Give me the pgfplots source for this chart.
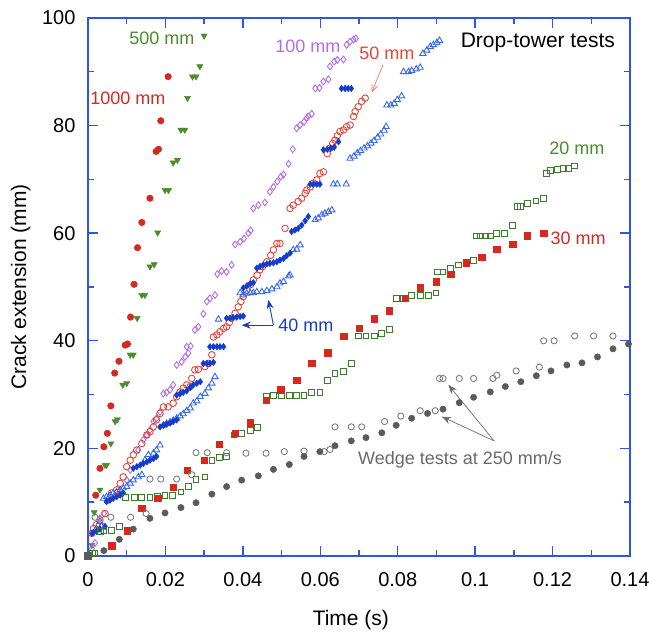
\documentclass[border=0pt]{standalone}
\usepackage{fontspec}
\setmainfont{Liberation Sans}
\usepackage{pgfplots}
\pgfplotsset{compat=1.18}
\usetikzlibrary{arrows.meta}
\definecolor{frameblue}{RGB}{45,85,230}
\definecolor{redA}{RGB}{215,40,30}
\definecolor{redB}{RGB}{228,70,55}
\definecolor{greenA}{RGB}{75,140,45}
\definecolor{greenB}{RGB}{60,125,45}
\definecolor{purpleA}{RGB}{175,110,235}
\definecolor{blueA}{RGB}{20,60,205}
\definecolor{blueB}{RGB}{55,105,235}
\definecolor{grayA}{RGB}{90,90,90}
\definecolor{grayB}{RGB}{125,125,125}
\definecolor{grayT}{RGB}{105,105,105}
\begin{document}
\begin{tikzpicture}
\useasboundingbox (-88pt,-76pt) rectangle (561pt,556pt);
\begin{axis}[name=ax, scale only axis, width=542pt, height=538pt,
  at={(0,0)}, anchor=south west,
  xmin=0, xmax=0.14, ymin=0, ymax=100,
  clip=false,
  axis line style={frameblue, line width=1.6pt},
  xtick={0,0.02,0.04,0.06,0.08,0.1,0.12,0.14},
  xticklabels={0,0.02,0.04,0.06,0.08,0.1,0.12,0.14},
  minor xtick={0.01,0.03,0.05,0.07,0.09,0.11,0.13},
  ytick={0,20,40,60,80,100},
  yticklabels={0,20,40,60,80,100},
  minor ytick={10,30,50,70,90},
  xtick pos=both, ytick pos=both,
  xticklabel pos=lower, yticklabel pos=left,
  tick align=inside,
  major tick length=10pt, minor tick length=6pt,
  every tick/.style={frameblue, line width=1.4pt},
  ticklabel style={font=\fontsize{20}{24}\selectfont},
  xticklabel style={yshift=-13pt},
  yticklabel style={xshift=-9pt},
  xlabel={Time (s)}, ylabel={Crack extension (mm)},
  xlabel style={font=\fontsize{21}{25}\selectfont, at={(axis description cs:0.485,-0.119)}, anchor=center},
  ylabel style={font=\fontsize{21}{25}\selectfont, at={(axis description cs:-0.124,0.5)}, anchor=center},
  every axis plot/.append style={only marks},
]
% 1000 mm
\addplot[mark=*, mark size=3.3pt, mark options={fill=redA, draw=redA}] coordinates {
(0.0207,89.1) (0.0188,80.9) (0.0176,75.2) (0.0182,75.6) (0.0160,66.5) (0.0139,62.0)
(0.0128,57.3) (0.0119,50.5) (0.0110,44.4) (0.0096,39.2) (0.0102,39.4) (0.0080,36.2)
(0.0069,34.0) (0.0059,27.9) (0.0050,22.8) (0.0041,20.3) (0.0031,16.3) (0.0020,11.3)};
% 500 mm
\addplot[mark=triangle*, mark size=3.6pt, mark options={fill=greenA, draw=greenA, rotate=180}] coordinates {
(0.0300,96.7) (0.0289,91.0) (0.0270,89.1) (0.0279,89.1) (0.0257,85.1) (0.0240,79.2)
(0.0250,79.2) (0.0220,73.1) (0.0231,73.6) (0.0199,68.0) (0.0208,68.0) (0.0180,60.1)
(0.0160,53.8) (0.0171,54.2) (0.0139,48.5) (0.0147,48.5) (0.0127,44.2) (0.0109,37.4)
(0.0117,37.4) (0.0090,31.8) (0.0100,32.1) (0.0070,25.0) (0.0076,25.4) (0.0059,20.9)
(0.0044,16.9) (0.0048,16.9) (0.0031,12.3) (0.0016,8.1) (0.0010,2.0)};
% 100 mm
\addplot[mark=diamond, mark size=3.4pt, mark options={draw=purpleA, line width=0.9pt, fill=none}] coordinates {
(0.0010,1.4) (0.0018,2.4) (0.0031,7.0) (0.0041,7.9) (0.0100,14.1) (0.0109,16.0)
(0.0130,19.7) (0.0143,21.6) (0.0152,22.5) (0.0160,23.4) (0.0169,25.0) (0.0177,25.6)
(0.0186,26.8) (0.0195,30.2) (0.0203,30.4) (0.0212,30.9) (0.0220,31.8) (0.0229,35.5)
(0.0242,36.1) (0.0251,37.0) (0.0259,37.7) (0.0255,38.9) (0.0265,39.0) (0.0276,42.0)
(0.0285,42.6) (0.0298,45.0) (0.0307,47.3) (0.0315,47.9) (0.0328,48.5) (0.0334,52.4)
(0.0345,53.0) (0.0358,52.8) (0.0371,54.1) (0.0380,57.9) (0.0393,58.4) (0.0403,59.0)
(0.0414,60.0) (0.0420,60.5) (0.0427,64.6) (0.0440,65.2) (0.0457,65.7) (0.0470,67.7)
(0.0479,68.6) (0.0489,69.6) (0.0498,70.5) (0.0505,70.9) (0.0518,72.9) (0.0529,75.6)
(0.0539,79.5) (0.0548,80.1) (0.0558,80.7) (0.0565,81.4) (0.0569,81.7) (0.0578,82.2)
(0.0587,86.9) (0.0598,87.0) (0.0608,88.2) (0.0621,88.6) (0.0625,91.0) (0.0636,91.9)
(0.0644,92.2) (0.0660,92.3) (0.0668,95.0) (0.0677,95.6) (0.0686,96.0) (0.0692,96.2)};
% 50 mm
\addplot[mark=o, mark size=3.3pt, mark options={draw=redB, line width=0.9pt}] coordinates {
(0.0010,4.2) (0.0014,5.1) (0.0022,5.8) (0.0031,6.7) (0.0044,7.9) (0.0052,10.4)
(0.0061,11.7) (0.0074,12.3) (0.0083,13.5) (0.0091,14.7) (0.0100,16.6) (0.0109,17.8)
(0.0117,18.8) (0.0126,19.7) (0.0139,20.9) (0.0152,22.5) (0.0160,23.1) (0.0169,24.0)
(0.0177,25.3) (0.0186,26.5) (0.0195,27.7) (0.0207,27.7) (0.0220,28.4) (0.0229,29.6)
(0.0238,30.5) (0.0246,31.2) (0.0255,31.8) (0.0264,31.5) (0.0268,33.0) (0.0276,34.6)
(0.0285,34.7) (0.0302,35.2) (0.0311,35.8) (0.0320,37.4) (0.0324,40.7) (0.0333,41.1)
(0.0341,41.7) (0.0350,42.3) (0.0358,42.6) (0.0365,43.4) (0.0371,44.2) (0.0380,45.1)
(0.0388,46.3) (0.0395,47.3) (0.0401,48.2) (0.0410,49.4) (0.0419,50.4) (0.0427,51.3)
(0.0437,52.2) (0.0444,53.2) (0.0451,53.8) (0.0462,54.7) (0.0472,55.9) (0.0479,56.9)
(0.0488,58.1) (0.0496,58.1) (0.0509,60.9) (0.0522,64.6) (0.0530,65.2) (0.0543,65.9)
(0.0552,66.5) (0.0561,67.4) (0.0565,68.0) (0.0574,68.6) (0.0582,69.3) (0.0591,69.9)
(0.0599,71.1) (0.0608,71.4) (0.0618,74.8) (0.0625,75.8) (0.0632,76.7) (0.0638,77.3)
(0.0644,78.1) (0.0651,78.9) (0.0660,79.2) (0.0668,79.8) (0.0677,80.1) (0.0686,81.7)
(0.0690,82.6) (0.0698,83.5) (0.0707,84.5) (0.0716,85.1)};
% 40 mm open triangles
\addplot[mark=triangle, mark size=3.6pt, mark options={draw=blueB, line width=0.9pt}] coordinates {
(0.0022,5.1) (0.0031,6.4) (0.0035,5.5)
(0.0040,10.7) (0.0048,11.0) (0.0057,11.3) (0.0065,11.7) (0.0074,11.9) (0.0083,12.3)
(0.0091,12.6) (0.0100,12.9) (0.0109,13.5) (0.0117,14.1) (0.0130,14.7) (0.0139,15.1)
(0.0147,17.8) (0.0156,18.8) (0.0169,19.1) (0.0177,19.7) (0.0186,20.6)
(0.0195,24.3) (0.0203,24.6) (0.0212,24.9) (0.0220,25.2) (0.0229,25.6) (0.0238,26.0)
(0.0246,26.4) (0.0255,27.0) (0.0264,27.5) (0.0272,28.4) (0.0281,28.8) (0.0290,29.6)
(0.0302,30.2) (0.0311,31.2) (0.0320,32.1) (0.0328,33.3)
(0.0337,44.0)
(0.0393,48.9) (0.0401,48.5) (0.0410,48.8) (0.0419,48.9) (0.0427,48.9) (0.0436,49.1)
(0.0449,49.1) (0.0462,49.3) (0.0475,49.6) (0.0488,50.0) (0.0496,50.7) (0.0505,51.0)
(0.0518,52.0) (0.0522,52.2)
(0.0530,56.9) (0.0539,57.0) (0.0548,57.8)
(0.0587,62.5) (0.0595,62.8) (0.0604,63.4) (0.0612,63.7) (0.0621,64.0) (0.0630,64.3)
(0.0634,69.1) (0.0644,69.1) (0.0667,69.1)
(0.0677,73.9) (0.0687,74.3) (0.0696,74.9) (0.0704,75.3) (0.0713,75.8) (0.0722,76.2)
(0.0731,76.7) (0.0739,77.2) (0.0748,77.8) (0.0756,78.4) (0.0765,79.1) (0.0770,79.8)
(0.0772,83.8) (0.0782,83.8) (0.0791,84.1) (0.0799,84.8) (0.0810,85.5)
(0.0815,90.0) (0.0828,90.0) (0.0836,90.2) (0.0848,90.5) (0.0858,90.8)
(0.0865,93.4) (0.0875,94.0) (0.0884,94.7) (0.0892,95.0) (0.0901,95.4) (0.0908,95.8)};
% 40 mm filled diamonds
\addplot[mark=diamond*, mark size=3.3pt, mark options={fill=blueA, draw=blueA}] coordinates {
(0.0010,4.2) (0.0014,4.4) (0.0022,4.6) (0.0031,5.0) (0.0044,5.5)
(0.0048,10.1) (0.0057,10.4) (0.0065,10.7) (0.0074,11.0) (0.0083,11.3) (0.0091,11.7)
(0.0117,16.3) (0.0126,16.6) (0.0135,16.9) (0.0143,17.2) (0.0152,17.5) (0.0160,17.8)
(0.0169,18.1) (0.0177,18.5)
(0.0186,24.0) (0.0195,24.3) (0.0203,24.5) (0.0212,24.7) (0.0220,25.0) (0.0229,25.3)
(0.0229,29.9) (0.0238,30.2) (0.0246,30.4) (0.0255,30.7) (0.0264,31.3) (0.0272,31.8)
(0.0281,32.1) (0.0290,32.4)
(0.0298,35.8) (0.0307,35.8) (0.0315,35.8) (0.0324,36.0)
(0.0315,38.9) (0.0324,38.9) (0.0333,38.9) (0.0341,38.9) (0.0350,38.9)
(0.0358,44.2) (0.0367,44.2) (0.0375,44.3) (0.0384,44.4) (0.0393,44.5) (0.0401,44.6)
(0.0401,49.8) (0.0410,50.2) (0.0419,50.6) (0.0427,50.8)
(0.0436,53.5) (0.0444,53.8) (0.0453,54.1) (0.0462,54.3) (0.0470,54.4) (0.0479,54.5)
(0.0488,54.7) (0.0496,55.0) (0.0505,55.3) (0.0513,55.8) (0.0522,56.3)
(0.0526,60.3) (0.0535,60.6) (0.0543,60.9) (0.0552,61.5) (0.0561,62.3) (0.0569,63.1)
(0.0574,69.1) (0.0582,69.1) (0.0591,69.1) (0.0599,69.1)
(0.0608,75.5) (0.0618,75.6) (0.0627,75.8) (0.0636,76.0) (0.0647,77.0)
(0.0655,86.9) (0.0664,86.9) (0.0672,86.9) (0.0680,86.9)};
% 20 mm open squares
\addplot[mark=square, mark size=2.9pt, mark options={draw=greenB, line width=0.9pt}] coordinates {
(0.0012,0.4) (0.0018,0.5)
(0.0033,4.5) (0.0041,4.8) (0.0061,4.8) (0.0081,5.5)
(0.0096,10.9) (0.0119,10.9) (0.0139,10.9) (0.0160,10.9) (0.0180,11.0) (0.0199,11.3)
(0.0219,11.3) (0.0240,11.9) (0.0259,12.9) (0.0279,14.3) (0.0302,14.7)
(0.0320,17.8) (0.0339,18.3) (0.0358,18.5)
(0.0377,22.5) (0.0397,22.8) (0.0419,23.4) (0.0437,23.9)
(0.0460,29.6) (0.0479,29.9) (0.0500,29.9) (0.0520,29.9) (0.0539,29.9) (0.0558,29.9)
(0.0578,30.4) (0.0599,30.4)
(0.0618,32.7) (0.0638,34.0) (0.0660,34.3) (0.0680,35.8)
(0.0698,40.9) (0.0718,40.9) (0.0739,40.9) (0.0759,41.4) (0.0778,42.1)
(0.0797,47.9) (0.0815,47.9) (0.0836,48.5) (0.0858,48.5) (0.0879,48.5) (0.0899,48.9)
(0.0903,52.8) (0.0917,52.8) (0.0937,53.5) (0.0957,54.1) (0.0977,54.5) (0.0996,55.0)
(0.1003,59.5) (0.1013,59.5) (0.1026,59.5) (0.1039,59.5) (0.1056,60.0) (0.1075,60.0)
(0.1097,61.5)
(0.1109,64.9) (0.1118,64.9) (0.1135,65.5) (0.1157,66.0) (0.1177,66.5)
(0.1185,71.1) (0.1194,71.6) (0.1213,71.9) (0.1228,72.1) (0.1241,72.1) (0.1256,72.5)};
% 30 mm filled squares
\addplot[mark=square*, mark size=3.2pt, mark options={fill=redA, draw=redA}] coordinates {
(0.0061,1.9) (0.0102,4.7) (0.0139,8.9) (0.0180,10.7) (0.0220,12.8) (0.0257,15.9)
(0.0300,17.8) (0.0339,20.8) (0.0380,22.8) (0.0419,24.8) (0.0460,29.0) (0.0498,30.9)
(0.0539,32.7) (0.0578,35.8) (0.0619,37.8) (0.0660,40.8) (0.0700,42.3) (0.0739,44.1)
(0.0778,45.6) (0.0819,47.9) (0.0858,49.9) (0.0899,51.0) (0.0937,52.4) (0.0977,54.4)
(0.1017,55.5) (0.1056,57.0) (0.1097,57.9) (0.1135,59.5) (0.1177,60.0)};
% Wedge open
\addplot[mark=o, mark size=3.1pt, mark options={draw=grayB, line width=0.9pt}] coordinates {
(0.0018,7.2) (0.0059,7.2) (0.0110,7.2) (0.0150,7.9) (0.0160,14.3) (0.0188,14.3)
(0.0229,14.3) (0.0268,15.1) (0.0279,19.2) (0.0308,19.2) (0.0358,19.2) (0.0408,19.1)
(0.0460,19.1) (0.0507,19.4) (0.0558,19.5) (0.0610,19.4) (0.0625,19.8) (0.0638,24.0)
(0.0680,24.0) (0.0707,24.0) (0.0766,25.0) (0.0808,26.0) (0.0858,27.0) (0.0897,27.0)
(0.0908,33.0) (0.0917,33.0) (0.0959,33.0) (0.0996,33.0) (0.1046,33.0) (0.1056,33.6)
(0.1106,34.4) (0.1166,35.1) (0.1177,40.0) (0.1204,40.0) (0.1257,40.9) (0.1306,40.9)
(0.1356,40.9)};
% Wedge filled
\addplot[mark=*, mark size=3.2pt, mark options={fill=grayA, draw=grayA}] coordinates {
(0.0041,1.0) (0.0081,3.1) (0.0117,5.0) (0.0160,7.0) (0.0199,8.0) (0.0240,9.0)
(0.0279,9.9) (0.0320,11.5) (0.0358,12.9) (0.0397,14.1) (0.0440,14.9) (0.0479,16.1)
(0.0520,17.0) (0.0558,18.5) (0.0599,19.4) (0.0638,20.5) (0.0680,21.4) (0.0718,22.0)
(0.0759,22.9) (0.0796,24.3) (0.0836,25.6) (0.0877,26.5) (0.0917,27.3) (0.0959,28.5)
(0.0996,29.5) (0.1039,30.5) (0.1078,31.5) (0.1118,32.4) (0.1158,33.5) (0.1196,34.4)
(0.1237,35.5) (0.1276,35.9) (0.1316,37.0) (0.1356,38.5) (0.1396,39.4)};
\addplot[mark=square*, mark size=3.4pt, mark options={fill=grayA, draw=grayA}] coordinates {(0,0)};
% annotations
\node[text=greenA, font=\fontsize{18}{20}\selectfont] at (axis cs:0.0191,96.3) {500 mm};
\node[text=redA, font=\fontsize{18}{20}\selectfont] at (axis cs:0.0103,85.1) {1000 mm};
\node[text=purpleA, font=\fontsize{18}{20}\selectfont] at (axis cs:0.0568,94.8) {100 mm};
\node[text=redB, font=\fontsize{18}{20}\selectfont] at (axis cs:0.0772,93.5) {50 mm};
\draw[redB!80, line width=0.6pt, -{Straight Barb[length=7pt,width=6pt]}] (axis cs:0.0762,91.3) -- (axis cs:0.0733,86.2);
\node[text=black, font=\fontsize{21}{25}\selectfont] at (axis cs:0.1162,95.4) {Drop-tower tests};
\node[text=greenA, font=\fontsize{18}{20}\selectfont] at (axis cs:0.1263,75.8) {20 mm};
\node[text=redA, font=\fontsize{18}{20}\selectfont] at (axis cs:0.1266,59.1) {30 mm};
\node[text=blueA, font=\fontsize{18}{20}\selectfont, anchor=west, inner sep=0pt] at (axis cs:0.0491,42.8) {40 mm};
\draw[blueA, line width=0.9pt, -{Stealth[length=9pt,width=7pt]}] (axis cs:0.0479,42.9) -- (axis cs:0.0397,42.9);
\draw[blueA, line width=0.9pt, -{Stealth[length=9pt,width=7pt]}] (axis cs:0.0479,42.9) -- (axis cs:0.0466,47.6);
\node[text=grayT, font=\fontsize{18}{20}\selectfont] at (axis cs:0.0961,17.8) {Wedge tests at 250 mm/s};
\draw[grayT, line width=0.7pt, -{Stealth[length=9pt,width=7pt]}] (axis cs:0.1049,21.4) -- (axis cs:0.0914,25.9);
\draw[grayT, line width=0.7pt, -{Stealth[length=9pt,width=7pt]}] (axis cs:0.1049,21.4) -- (axis cs:0.0931,31.8);
\end{axis}
\end{tikzpicture}
\end{document}
